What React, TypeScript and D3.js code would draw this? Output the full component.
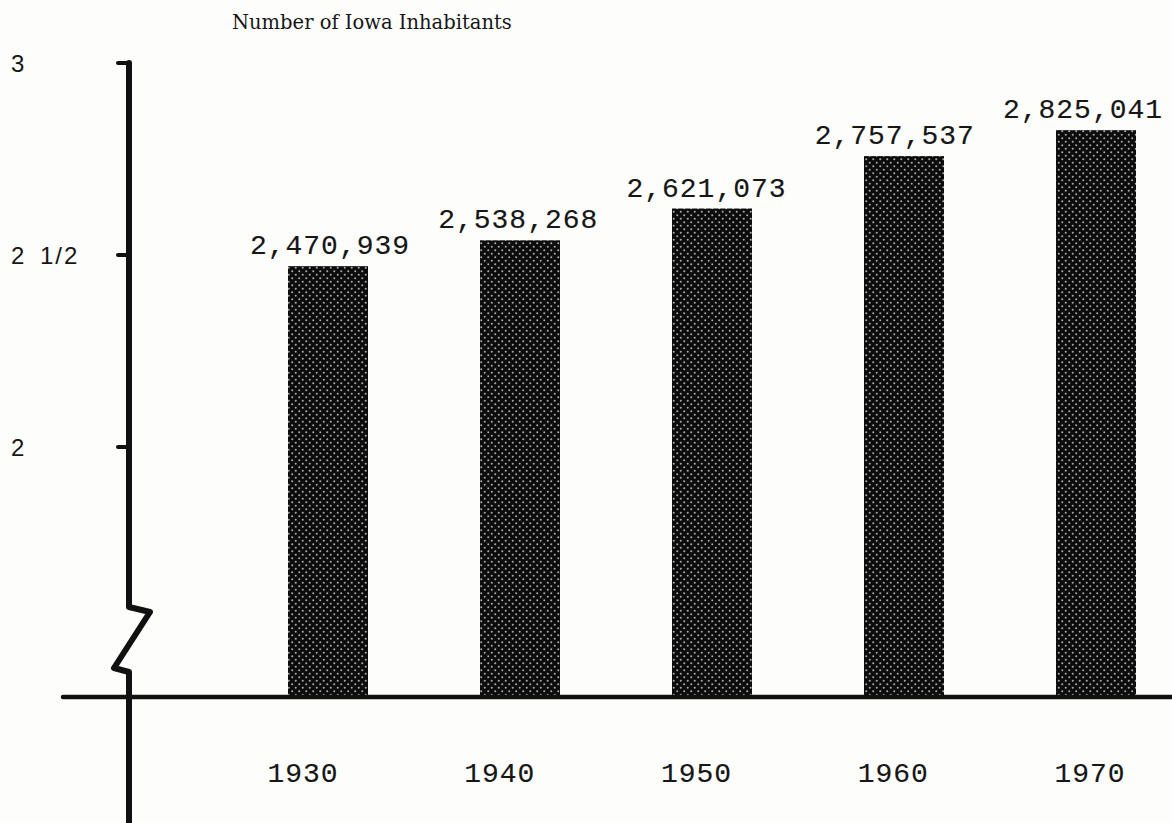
import React from "react";
import * as d3 from "d3";

// Iowa population by census year
const years = ["1930", "1940", "1950", "1960", "1970"];
const population = [2470939, 2538268, 2621073, 2757537, 2825041];
const tickValues = [2, 2.5, 3];
const tickLabels = ["2", "2 1/2", "3"];
const title = "Number of Iowa Inhabitants";

const WIDTH = 1172;
const HEIGHT = 823;
const AXIS_X = 129;
const BASELINE = 697;
const INK = "#161616";

const App: React.FC = () => {
  // millions -> pixels (broken axis, starts at 2 million)
  const y = d3.scaleLinear().domain([2, 3]).range([447, 63]);
  const x = d3.scalePoint<string>().domain(years).range([328, 1096]);
  // typed labels don't sit exactly over the bars
  const xValue = d3.scalePoint<string>().domain(years).range([330, 1083]);
  const xYear = d3.scalePoint<string>().domain(years).range([303, 1090]);
  const barW = 80;

  // axis with the zigzag break just above the baseline
  const axisPts: [number, number][] = [
    [AXIS_X, y(3)],
    [AXIS_X, 607],
    [AXIS_X + 21, 612],
    [AXIS_X - 15, 668],
    [AXIS_X, 672],
    [AXIS_X, HEIGHT + 5],
  ];
  const axisPath = d3.line()(axisPts) || "";
  const fmt = d3.format(",");

  const typed = {
    fontFamily: "Liberation Mono",
    fontSize: 28,
    letterSpacing: 1,
    fill: INK,
    stroke: INK,
    strokeWidth: 0.15,
  };

  return (
    <div style={{ position: "absolute", left: 0, top: 0 }}>
      <svg width={WIDTH} height={HEIGHT} style={{ display: "block", background: "#fdfdfb" }}>
        <defs>
          <pattern id="halftone" width="7" height="7" patternUnits="userSpaceOnUse">
            <rect width="7" height="7" fill="#0c0c0c" />
            <circle cx="1.75" cy="1.75" r="1.05" fill="#a6a6a6" />
            <circle cx="5.25" cy="5.25" r="1.05" fill="#a6a6a6" />
          </pattern>
        </defs>

        {/* title */}
        <text x={232} y={29} fontFamily="DejaVu Serif" fontSize={19.5} fill={INK}>
          {title}
        </text>

        {/* y axis */}
        <path
          d={axisPath}
          fill="none"
          stroke="#111"
          strokeWidth={6}
          strokeLinejoin="round"
          strokeLinecap="round"
        />
        {tickValues.map((t, i) => (
          <g key={t}>
            <line
              x1={AXIS_X - 11}
              x2={AXIS_X}
              y1={y(t)}
              y2={y(t)}
              stroke="#111"
              strokeWidth={4}
              strokeLinecap="round"
            />
            <text
              x={11}
              y={y(t)}
              dy="0.36em"
              fontFamily="Liberation Sans"
              fontSize={24}
              letterSpacing={2}
              wordSpacing={5}
              fill={INK}
            >
              {tickLabels[i]}
            </text>
          </g>
        ))}

        {/* bars */}
        {years.map((yr, i) => {
          const cx = x(yr) as number;
          const top = y(population[i] / 1e6);
          return (
            <g key={yr}>
              <rect
                x={cx - barW / 2}
                y={top}
                width={barW}
                height={BASELINE - top}
                fill="url(#halftone)"
              />
              <text x={xValue(yr)} y={top - 12} textAnchor="middle" {...typed}>
                {fmt(population[i])}
              </text>
              <text x={xYear(yr)} y={782} textAnchor="middle" {...typed}>
                {yr}
              </text>
            </g>
          );
        })}

        {/* x axis */}
        <line
          x1={63}
          x2={WIDTH}
          y1={BASELINE}
          y2={BASELINE}
          stroke="#111"
          strokeWidth={4.5}
          strokeLinecap="round"
        />
      </svg>
    </div>
  );
};

export default App;
